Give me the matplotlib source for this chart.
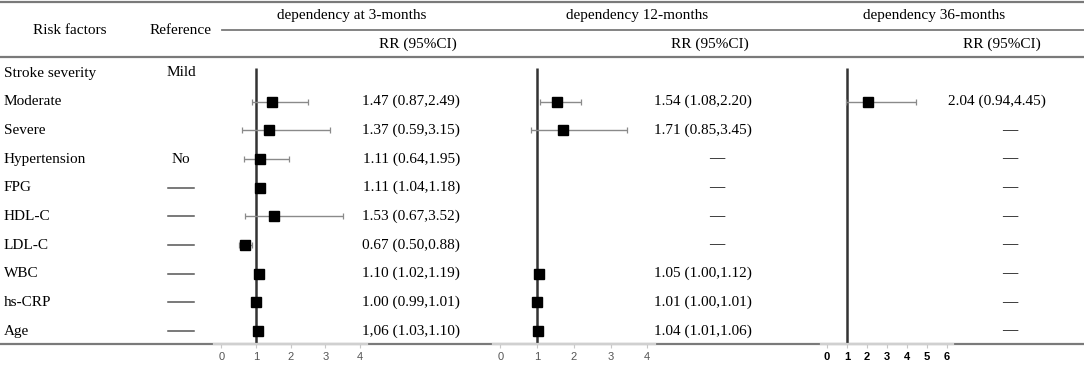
import matplotlib
matplotlib.use("Agg")
import matplotlib.pyplot as plt

# ---------------- data ----------------
factors = ["Stroke severity", "Moderate", "Severe", "Hypertension", "FPG",
           "HDL-C", "LDL-C", "WBC", "hs-CRP", "Age"]
references = ["Mild", "", "", "No", "-", "-", "-", "-", "-", "-"]

titles = ["dependency at 3-months", "dependency 12-months", "dependency 36-months"]

rr_3m = [None, 1.47, 1.37, 1.11, 1.11, 1.53, 0.67, 1.10, 1.00, 1.06]
lo_3m = [None, 0.87, 0.59, 0.64, 1.04, 0.67, 0.50, 1.02, 0.99, 1.03]
hi_3m = [None, 2.49, 3.15, 1.95, 1.18, 3.52, 0.88, 1.19, 1.01, 1.10]
txt_3m = ["", "1.47 (0.87,2.49)", "1.37 (0.59,3.15)", "1.11 (0.64,1.95)",
          "1.11 (1.04,1.18)", "1.53 (0.67,3.52)", "0.67 (0.50,0.88)",
          "1.10 (1.02,1.19)", "1.00 (0.99,1.01)", "1,06 (1.03,1.10)"]

rr_12m = [None, 1.54, 1.71, None, None, None, None, 1.05, 1.01, 1.04]
lo_12m = [None, 1.08, 0.85, None, None, None, None, 1.00, 1.00, 1.01]
hi_12m = [None, 2.20, 3.45, None, None, None, None, 1.12, 1.01, 1.06]
txt_12m = ["", "1.54 (1.08,2.20)", "1.71 (0.85,3.45)", "\u2014", "\u2014", "\u2014",
           "\u2014", "1.05 (1.00,1.12)", "1.01 (1.00,1.01)", "1.04 (1.01,1.06)"]

rr_36m = [None, 2.04, None, None, None, None, None, None, None, None]
lo_36m = [None, 0.94, None, None, None, None, None, None, None, None]
hi_36m = [None, 4.45, None, None, None, None, None, None, None, None]
txt_36m = ["", "2.04 (0.94,4.45)", "\u2014", "\u2014", "\u2014", "\u2014",
           "\u2014", "\u2014", "\u2014", "\u2014"]

ticks_3m = [0, 1, 2, 3, 4]
ticks_12m = [0, 1, 2, 3, 4]
ticks_36m = [0, 1, 2, 3, 4, 5, 6]

# ---------------- layout ----------------
W, H = 1084, 370
SERIF = "Liberation Serif"
FS = 11
LINE_C = "#7a7a7a"

fig = plt.figure(figsize=(W / 100, H / 100), dpi=100)
ov = fig.add_axes([0, 0, 1, 1], zorder=0)
ov.set_xlim(0, W)
ov.set_ylim(H, 0)
ov.axis("off")

row_y0, row_dy = 73, 28.67
def row_px(i):
    return row_y0 + row_dy * i

# horizontal rules
ov.plot([0, W], [2, 2], color=LINE_C, lw=1.6)
ov.plot([222, W], [30, 30], color=LINE_C, lw=1.3)
ov.plot([0, W], [57, 57], color=LINE_C, lw=1.6)
ov.plot([0, W], [344, 344], color=LINE_C, lw=1.6)

# headers
ov.text(70, 30, "Risk factors", family=SERIF, fontsize=FS, ha="center", va="center")
ov.text(181, 30, "Reference", family=SERIF, fontsize=FS, ha="center", va="center")
title_x = [352, 637, 934]
rr_hdr_x = [418, 710, 1002]
for t, x in zip(titles, title_x):
    ov.text(x, 16, t, family=SERIF, fontsize=FS, ha="center", va="center")
for x in rr_hdr_x:
    ov.text(x, 44, "RR (95%CI)", family=SERIF, fontsize=FS, ha="center", va="center")

# row labels and reference column
for i, (f, r) in enumerate(zip(factors, references)):
    y = row_px(i)
    ov.text(4, y, f, family=SERIF, fontsize=FS, ha="left", va="center")
    if r == "-":
        ov.plot([168, 194], [y, y], color="#555555", lw=1.1)
    elif r:
        ov.text(181, y, r, family=SERIF, fontsize=FS, ha="center", va="center")

panels = [
    (rr_3m, lo_3m, hi_3m, txt_3m, ticks_3m, 200, 380, 256, 34.6, 460, 0, (-0.2, 4.2), False),
    (rr_12m, lo_12m, hi_12m, txt_12m, ticks_12m, 480, 665, 537, 36.75, 752, 717, (-0.2, 4.2), False),
    (rr_36m, lo_36m, hi_36m, txt_36m, ticks_36m, 810, 960, 847, 20.0, 1046, 1010, (-0.3, 6.3), True),
]

ax_top, ax_bot = 60, 344
for (rr, lo, hi, txt, ticks, L, R, p1, s, tx, dx, bounds, bold) in panels:
    ax = fig.add_axes([L / W, 1 - ax_bot / H, (R - L) / W, (ax_bot - ax_top) / H], zorder=1)
    ax.patch.set_alpha(0)
    ax.set_xlim((L - p1) / s + 1, (R - p1) / s + 1)
    ax.set_ylim((ax_bot - row_y0) / row_dy, (ax_top - row_y0) / row_dy)
    for sp in ["top", "left", "right"]:
        ax.spines[sp].set_visible(False)
    ax.spines["bottom"].set_color("#d0d0d0")
    ax.spines["bottom"].set_linewidth(1.6)
    ax.spines["bottom"].set_bounds(*bounds)
    ax.set_yticks([])
    ax.set_xticks(ticks)
    ax.set_xticklabels([str(t) for t in ticks])
    ax.tick_params(axis="x", direction="out", length=3, width=0.8, color="#c8c8c8",
                   pad=3, labelsize=8,
                   labelcolor="black" if bold else "#555555")
    for lab in ax.get_xticklabels():
        lab.set_family("Liberation Sans")
        if bold:
            lab.set_fontweight("bold")
    ax.plot([1, 1], [(ax_bot - row_y0) / row_dy, (68 - row_y0) / row_dy],
            color="#333333", lw=1.8, solid_capstyle="butt", clip_on=False)
    for i in range(len(rr)):
        if rr[i] is None:
            continue
        ax.errorbar(rr[i], i, xerr=[[rr[i] - lo[i]], [hi[i] - rr[i]]], fmt="none",
                    ecolor="#8a8a8a", elinewidth=1.0, capsize=2.3, capthick=0.9)
        ax.plot(rr[i], i, marker="s", markersize=7.5, color="black", linestyle="none")
    for i, t in enumerate(txt):
        if not t:
            continue
        y = row_px(i)
        if t == "\u2014":
            ov.text(dx, y, t, family=SERIF, fontsize=FS, ha="center", va="center")
        else:
            ov.text(tx, y, t, family=SERIF, fontsize=FS, ha="right", va="center")

fig.savefig("out.png", dpi=100)
